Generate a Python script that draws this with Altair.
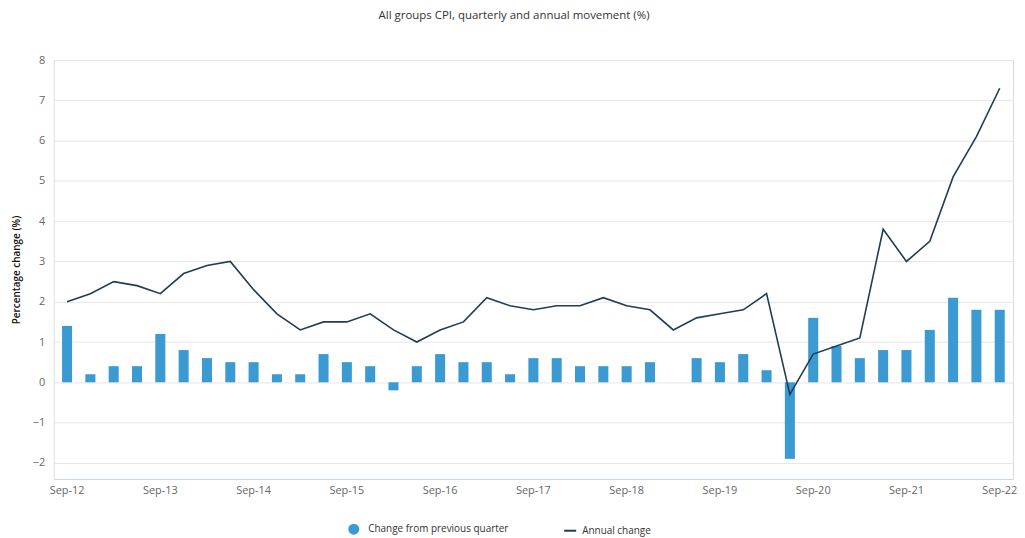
import altair as alt
import pandas as pd

quarters = [
    "Sep-12", "Dec-12", "Mar-13", "Jun-13",
    "Sep-13", "Dec-13", "Mar-14", "Jun-14",
    "Sep-14", "Dec-14", "Mar-15", "Jun-15",
    "Sep-15", "Dec-15", "Mar-16", "Jun-16",
    "Sep-16", "Dec-16", "Mar-17", "Jun-17",
    "Sep-17", "Dec-17", "Mar-18", "Jun-18",
    "Sep-18", "Dec-18", "Mar-19", "Jun-19",
    "Sep-19", "Dec-19", "Mar-20", "Jun-20",
    "Sep-20", "Dec-20", "Mar-21", "Jun-21",
    "Sep-21", "Dec-21", "Mar-22", "Jun-22",
    "Sep-22",
]
quarterly_change = [
    1.4, 0.2, 0.4, 0.4,
    1.2, 0.8, 0.6, 0.5,
    0.5, 0.2, 0.2, 0.7,
    0.5, 0.4, -0.2, 0.4,
    0.7, 0.5, 0.5, 0.2,
    0.6, 0.6, 0.4, 0.4,
    0.4, 0.5, 0.0, 0.6,
    0.5, 0.7, 0.3, -1.9,
    1.6, 0.9, 0.6, 0.8,
    0.8, 1.3, 2.1, 1.8,
    1.8,
]
annual_change = [
    2.0, 2.2, 2.5, 2.4,
    2.2, 2.7, 2.9, 3.0,
    2.3, 1.7, 1.3, 1.5,
    1.5, 1.7, 1.3, 1.0,
    1.3, 1.5, 2.1, 1.9,
    1.8, 1.9, 1.9, 2.1,
    1.9, 1.8, 1.3, 1.6,
    1.7, 1.8, 2.2, -0.3,
    0.7, 0.9, 1.1, 3.8,
    3.0, 3.5, 5.1, 6.1,
    7.3,
]
x_labels = ["Sep-12", "Sep-13", "Sep-14", "Sep-15", "Sep-16", "Sep-17",
            "Sep-18", "Sep-19", "Sep-20", "Sep-21", "Sep-22"]
y_ticks = [-2, -1, 0, 1, 2, 3, 4, 5, 6, 7, 8]

BAR_NAME = "Change from previous quarter"
LINE_NAME = "Annual change"

df = pd.DataFrame({
    "quarter": quarters,
    "qchg": quarterly_change,
    "achg": annual_change,
    "bar_series": BAR_NAME,
    "line_series": LINE_NAME,
})

FONT = "Open Sans"

x_enc = alt.X(
    "quarter:O",
    sort=quarters,
    title=None,
    scale=alt.Scale(paddingInner=0.57, paddingOuter=0.355),
    axis=alt.Axis(
        values=x_labels,
        labelAngle=0,
        labelColor="#666666",
        labelFontSize=11,
        labelFont=FONT,
        labelPadding=6,
        ticks=False,
        domainColor="#ccd6eb",
        domainWidth=1,
        grid=False,
    ),
)

y_scale = alt.Scale(domain=[-2.4, 8], nice=False, zero=False)
y_axis = alt.Axis(
    values=y_ticks,
    title="Percentage change (%)",
    titleFont=FONT,
    titleFontSize=10,
    titleFontWeight=600,
    titleColor="#111111",
    titlePadding=11,
    labelColor="#666666",
    labelFontSize=11,
    labelFont=FONT,
    labelPadding=9,
    ticks=False,
    domain=False,
    grid=True,
    gridColor="#e6e6e6",
    gridWidth=1,
)

bars = alt.Chart(df).mark_bar(color="#3a9ad1").encode(
    x=x_enc,
    y=alt.Y("qchg:Q", scale=y_scale, axis=y_axis),
    color=alt.Color(
        "bar_series:N",
        scale=alt.Scale(domain=[BAR_NAME], range=["#3a9ad1"]),
        legend=alt.Legend(
            title=None,
            orient="none",
            legendX=296,
            legendY=466,
            symbolType="circle",
            symbolSize=121,
            symbolStrokeWidth=0,
            labelOffset=9,
            labelFont=FONT,
            labelFontSize=10,
            labelColor="#333333",
        ),
    ),
)

line = alt.Chart(df).mark_line(strokeWidth=1.6).encode(
    x=x_enc,
    y=alt.Y("achg:Q", scale=y_scale),
    stroke=alt.Stroke(
        "line_series:N",
        scale=alt.Scale(domain=[LINE_NAME], range=["#1f3d58"]),
        legend=alt.Legend(
            title=None,
            orient="none",
            legendX=512,
            legendY=466,
            symbolType="stroke",
            symbolSize=144,
            symbolStrokeWidth=2,
            labelOffset=5,
            labelFont=FONT,
            labelFontSize=10,
            labelColor="#333333",
        ),
    ),
)

chart = (
    alt.layer(bars, line)
    .resolve_scale(color="independent", stroke="independent")
    .properties(
        width=964,
        height=421,
        padding={"left": 3, "top": 0, "right": 0, "bottom": 0},
        title=alt.TitleParams(
            "All groups CPI, quarterly and annual movement (%)",
            font=FONT,
            fontSize=11.5,
            fontWeight="normal",
            color="#333333",
            anchor="middle",
            frame="bounds",
            offset=33,
        ),
    )
    .configure_view(stroke=None)
    .configure(background="white")
)

chart.save("out.html", embed_options={"renderer": "svg", "actions": False})
